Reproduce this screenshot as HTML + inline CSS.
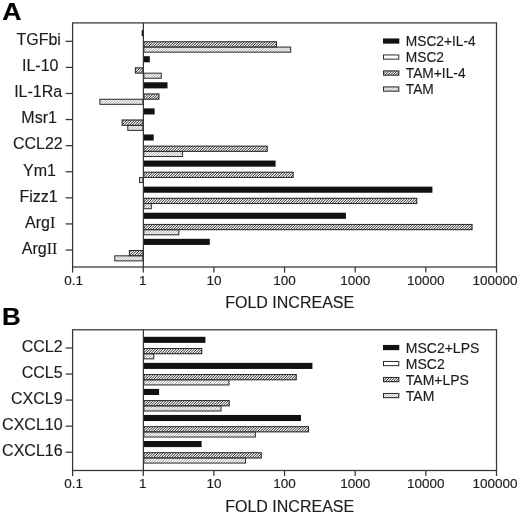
<!DOCTYPE html>
<html lang="en"><head><meta charset="utf-8"><title>Fold increase</title>
<style>html,body{margin:0;padding:0;background:#fff}svg{display:block}text{font-family:"Liberation Sans",Arial,Helvetica,sans-serif;fill:#1c1c1c;stroke:#1c1c1c;stroke-width:0.15px}.ser{font-family:"Liberation Serif","Times New Roman",serif;font-size:16px;stroke-width:0.1px}</style></head><body>
<svg width="520" height="514" viewBox="0 0 520 514">
<defs>
<path id="hatch" d="M68.40,20L-391.60,480M71.00,20L-389.00,480M73.60,20L-386.40,480M76.20,20L-383.80,480M78.80,20L-381.20,480M81.40,20L-378.60,480M84.00,20L-376.00,480M86.60,20L-373.40,480M89.20,20L-370.80,480M91.80,20L-368.20,480M94.40,20L-365.60,480M97.00,20L-363.00,480M99.60,20L-360.40,480M102.20,20L-357.80,480M104.80,20L-355.20,480M107.40,20L-352.60,480M110.00,20L-350.00,480M112.60,20L-347.40,480M115.20,20L-344.80,480M117.80,20L-342.20,480M120.40,20L-339.60,480M123.00,20L-337.00,480M125.60,20L-334.40,480M128.20,20L-331.80,480M130.80,20L-329.20,480M133.40,20L-326.60,480M136.00,20L-324.00,480M138.60,20L-321.40,480M141.20,20L-318.80,480M143.80,20L-316.20,480M146.40,20L-313.60,480M149.00,20L-311.00,480M151.60,20L-308.40,480M154.20,20L-305.80,480M156.80,20L-303.20,480M159.40,20L-300.60,480M162.00,20L-298.00,480M164.60,20L-295.40,480M167.20,20L-292.80,480M169.80,20L-290.20,480M172.40,20L-287.60,480M175.00,20L-285.00,480M177.60,20L-282.40,480M180.20,20L-279.80,480M182.80,20L-277.20,480M185.40,20L-274.60,480M188.00,20L-272.00,480M190.60,20L-269.40,480M193.20,20L-266.80,480M195.80,20L-264.20,480M198.40,20L-261.60,480M201.00,20L-259.00,480M203.60,20L-256.40,480M206.20,20L-253.80,480M208.80,20L-251.20,480M211.40,20L-248.60,480M214.00,20L-246.00,480M216.60,20L-243.40,480M219.20,20L-240.80,480M221.80,20L-238.20,480M224.40,20L-235.60,480M227.00,20L-233.00,480M229.60,20L-230.40,480M232.20,20L-227.80,480M234.80,20L-225.20,480M237.40,20L-222.60,480M240.00,20L-220.00,480M242.60,20L-217.40,480M245.20,20L-214.80,480M247.80,20L-212.20,480M250.40,20L-209.60,480M253.00,20L-207.00,480M255.60,20L-204.40,480M258.20,20L-201.80,480M260.80,20L-199.20,480M263.40,20L-196.60,480M266.00,20L-194.00,480M268.60,20L-191.40,480M271.20,20L-188.80,480M273.80,20L-186.20,480M276.40,20L-183.60,480M279.00,20L-181.00,480M281.60,20L-178.40,480M284.20,20L-175.80,480M286.80,20L-173.20,480M289.40,20L-170.60,480M292.00,20L-168.00,480M294.60,20L-165.40,480M297.20,20L-162.80,480M299.80,20L-160.20,480M302.40,20L-157.60,480M305.00,20L-155.00,480M307.60,20L-152.40,480M310.20,20L-149.80,480M312.80,20L-147.20,480M315.40,20L-144.60,480M318.00,20L-142.00,480M320.60,20L-139.40,480M323.20,20L-136.80,480M325.80,20L-134.20,480M328.40,20L-131.60,480M331.00,20L-129.00,480M333.60,20L-126.40,480M336.20,20L-123.80,480M338.80,20L-121.20,480M341.40,20L-118.60,480M344.00,20L-116.00,480M346.60,20L-113.40,480M349.20,20L-110.80,480M351.80,20L-108.20,480M354.40,20L-105.60,480M357.00,20L-103.00,480M359.60,20L-100.40,480M362.20,20L-97.80,480M364.80,20L-95.20,480M367.40,20L-92.60,480M370.00,20L-90.00,480M372.60,20L-87.40,480M375.20,20L-84.80,480M377.80,20L-82.20,480M380.40,20L-79.60,480M383.00,20L-77.00,480M385.60,20L-74.40,480M388.20,20L-71.80,480M390.80,20L-69.20,480M393.40,20L-66.60,480M396.00,20L-64.00,480M398.60,20L-61.40,480M401.20,20L-58.80,480M403.80,20L-56.20,480M406.40,20L-53.60,480M409.00,20L-51.00,480M411.60,20L-48.40,480M414.20,20L-45.80,480M416.80,20L-43.20,480M419.40,20L-40.60,480M422.00,20L-38.00,480M424.60,20L-35.40,480M427.20,20L-32.80,480M429.80,20L-30.20,480M432.40,20L-27.60,480M435.00,20L-25.00,480M437.60,20L-22.40,480M440.20,20L-19.80,480M442.80,20L-17.20,480M445.40,20L-14.60,480M448.00,20L-12.00,480M450.60,20L-9.40,480M453.20,20L-6.80,480M455.80,20L-4.20,480M458.40,20L-1.60,480M461.00,20L1.00,480M463.60,20L3.60,480M466.20,20L6.20,480M468.80,20L8.80,480M471.40,20L11.40,480M474.00,20L14.00,480M476.60,20L16.60,480M479.20,20L19.20,480M481.80,20L21.80,480M484.40,20L24.40,480M487.00,20L27.00,480M489.60,20L29.60,480M492.20,20L32.20,480M494.80,20L34.80,480M497.40,20L37.40,480M500.00,20L40.00,480M502.60,20L42.60,480M505.20,20L45.20,480M507.80,20L47.80,480M510.40,20L50.40,480M513.00,20L53.00,480M515.60,20L55.60,480M518.20,20L58.20,480M520.80,20L60.80,480M523.40,20L63.40,480M526.00,20L66.00,480M528.60,20L68.60,480M531.20,20L71.20,480M533.80,20L73.80,480M536.40,20L76.40,480M539.00,20L79.00,480M541.60,20L81.60,480M544.20,20L84.20,480M546.80,20L86.80,480M549.40,20L89.40,480M552.00,20L92.00,480M554.60,20L94.60,480M557.20,20L97.20,480M559.80,20L99.80,480M562.40,20L102.40,480M565.00,20L105.00,480M567.60,20L107.60,480M570.20,20L110.20,480M572.80,20L112.80,480M575.40,20L115.40,480M578.00,20L118.00,480M580.60,20L120.60,480M583.20,20L123.20,480M585.80,20L125.80,480M588.40,20L128.40,480M591.00,20L131.00,480M593.60,20L133.60,480M596.20,20L136.20,480M598.80,20L138.80,480M601.40,20L141.40,480M604.00,20L144.00,480M606.60,20L146.60,480M609.20,20L149.20,480M611.80,20L151.80,480M614.40,20L154.40,480M617.00,20L157.00,480M619.60,20L159.60,480M622.20,20L162.20,480M624.80,20L164.80,480M627.40,20L167.40,480M630.00,20L170.00,480M632.60,20L172.60,480M635.20,20L175.20,480M637.80,20L177.80,480M640.40,20L180.40,480M643.00,20L183.00,480M645.60,20L185.60,480M648.20,20L188.20,480M650.80,20L190.80,480M653.40,20L193.40,480M656.00,20L196.00,480M658.60,20L198.60,480M661.20,20L201.20,480M663.80,20L203.80,480M666.40,20L206.40,480M669.00,20L209.00,480M671.60,20L211.60,480M674.20,20L214.20,480M676.80,20L216.80,480M679.40,20L219.40,480M682.00,20L222.00,480M684.60,20L224.60,480M687.20,20L227.20,480M689.80,20L229.80,480M692.40,20L232.40,480M695.00,20L235.00,480M697.60,20L237.60,480M700.20,20L240.20,480M702.80,20L242.80,480M705.40,20L245.40,480M708.00,20L248.00,480M710.60,20L250.60,480M713.20,20L253.20,480M715.80,20L255.80,480M718.40,20L258.40,480M721.00,20L261.00,480M723.60,20L263.60,480M726.20,20L266.20,480M728.80,20L268.80,480M731.40,20L271.40,480M734.00,20L274.00,480M736.60,20L276.60,480M739.20,20L279.20,480M741.80,20L281.80,480M744.40,20L284.40,480M747.00,20L287.00,480M749.60,20L289.60,480M752.20,20L292.20,480M754.80,20L294.80,480M757.40,20L297.40,480M760.00,20L300.00,480M762.60,20L302.60,480M765.20,20L305.20,480M767.80,20L307.80,480M770.40,20L310.40,480M773.00,20L313.00,480M775.60,20L315.60,480M778.20,20L318.20,480M780.80,20L320.80,480M783.40,20L323.40,480M786.00,20L326.00,480M788.60,20L328.60,480M791.20,20L331.20,480M793.80,20L333.80,480M796.40,20L336.40,480M799.00,20L339.00,480M801.60,20L341.60,480M804.20,20L344.20,480M806.80,20L346.80,480M809.40,20L349.40,480M812.00,20L352.00,480M814.60,20L354.60,480M817.20,20L357.20,480M819.80,20L359.80,480M822.40,20L362.40,480M825.00,20L365.00,480M827.60,20L367.60,480M830.20,20L370.20,480M832.80,20L372.80,480M835.40,20L375.40,480M838.00,20L378.00,480M840.60,20L380.60,480M843.20,20L383.20,480M845.80,20L385.80,480M848.40,20L388.40,480M851.00,20L391.00,480M853.60,20L393.60,480M856.20,20L396.20,480M858.80,20L398.80,480M861.40,20L401.40,480M864.00,20L404.00,480M866.60,20L406.60,480M869.20,20L409.20,480M871.80,20L411.80,480M874.40,20L414.40,480M877.00,20L417.00,480M879.60,20L419.60,480M882.20,20L422.20,480M884.80,20L424.80,480M887.40,20L427.40,480M890.00,20L430.00,480M892.60,20L432.60,480M895.20,20L435.20,480M897.80,20L437.80,480M900.40,20L440.40,480M903.00,20L443.00,480M905.60,20L445.60,480M908.20,20L448.20,480M910.80,20L450.80,480M913.40,20L453.40,480M916.00,20L456.00,480M918.60,20L458.60,480M921.20,20L461.20,480M923.80,20L463.80,480M926.40,20L466.40,480M929.00,20L469.00,480M931.60,20L471.60,480M934.20,20L474.20,480M936.80,20L476.80,480M939.40,20L479.40,480M942.00,20L482.00,480M944.60,20L484.60,480M947.20,20L487.20,480M949.80,20L489.80,480M952.40,20L492.40,480M955.00,20L495.00,480M957.60,20L497.60,480M960.20,20L500.20,480M962.80,20L502.80,480M965.40,20L505.40,480M968.00,20L508.00,480M970.60,20L510.60,480M973.20,20L513.20,480M975.80,20L515.80,480M978.40,20L518.40,480" fill="none"/>
<clipPath id="cd">
<rect x="143.40" y="41.30" width="133.60" height="6.20"/>
<rect x="134.90" y="67.39" width="8.50" height="6.20"/>
<rect x="143.40" y="93.48" width="16.00" height="6.20"/>
<rect x="121.70" y="119.57" width="21.70" height="6.20"/>
<rect x="143.40" y="145.66" width="124.30" height="6.20"/>
<rect x="143.40" y="171.75" width="150.20" height="6.20"/>
<rect x="143.40" y="197.84" width="273.80" height="6.20"/>
<rect x="143.40" y="223.93" width="329.10" height="6.20"/>
<rect x="128.90" y="250.02" width="14.50" height="6.20"/>
<rect x="383.00" y="70.45" width="16.30" height="5.20"/>
<rect x="143.40" y="348.00" width="58.80" height="6.20"/>
<rect x="143.40" y="374.05" width="153.30" height="6.20"/>
<rect x="143.40" y="400.10" width="86.30" height="6.20"/>
<rect x="143.40" y="426.15" width="165.60" height="6.20"/>
<rect x="143.40" y="452.20" width="118.30" height="6.20"/>
<rect x="383.00" y="376.95" width="16.30" height="5.20"/>
</clipPath>
<clipPath id="cl">
<rect x="143.40" y="46.60" width="147.80" height="6.05"/>
<rect x="143.40" y="72.69" width="18.30" height="6.05"/>
<rect x="99.40" y="98.78" width="44.00" height="6.05"/>
<rect x="127.30" y="124.87" width="16.10" height="6.05"/>
<rect x="143.40" y="150.96" width="39.70" height="6.05"/>
<rect x="139.00" y="177.05" width="4.40" height="6.05"/>
<rect x="143.40" y="203.14" width="8.40" height="6.05"/>
<rect x="143.40" y="229.23" width="35.90" height="6.05"/>
<rect x="114.30" y="255.32" width="29.10" height="6.05"/>
<rect x="383.00" y="86.45" width="16.30" height="5.20"/>
<rect x="143.40" y="353.30" width="10.80" height="6.05"/>
<rect x="143.40" y="379.35" width="86.00" height="6.05"/>
<rect x="143.40" y="405.40" width="78.10" height="6.05"/>
<rect x="143.40" y="431.45" width="112.50" height="6.05"/>
<rect x="143.40" y="457.50" width="102.60" height="6.05"/>
<rect x="383.00" y="392.95" width="16.30" height="5.20"/>
</clipPath>
</defs>
<rect width="520" height="514" fill="#fff"/>
<g clip-path="url(#cd)"><rect x="90" y="20" width="410" height="460" fill="#f4f4f4"/><use href="#hatch" stroke="#303030" stroke-width="0.993"/></g>
<g clip-path="url(#cl)"><rect x="90" y="20" width="410" height="460" fill="#ffffff"/><use href="#hatch" stroke="#777" stroke-width="0.662"/></g>
<rect x="141.70" y="30.10" width="1.70" height="6.10" fill="#111"/>
<rect x="143.90" y="41.80" width="132.60" height="5.20" fill="none" stroke="#2a2a2a" stroke-width="1"/>
<rect x="143.90" y="47.10" width="146.80" height="5.05" fill="none" stroke="#303030" stroke-width="1"/>
<rect x="143.40" y="56.19" width="6.40" height="6.10" fill="#111"/>
<rect x="135.40" y="67.89" width="7.50" height="5.20" fill="none" stroke="#2a2a2a" stroke-width="1"/>
<rect x="143.90" y="73.19" width="17.30" height="5.05" fill="none" stroke="#303030" stroke-width="1"/>
<rect x="143.40" y="82.28" width="24.10" height="6.10" fill="#111"/>
<rect x="143.90" y="93.98" width="15.00" height="5.20" fill="none" stroke="#2a2a2a" stroke-width="1"/>
<rect x="99.90" y="99.28" width="43.00" height="5.05" fill="none" stroke="#303030" stroke-width="1"/>
<rect x="143.40" y="108.37" width="11.20" height="6.10" fill="#111"/>
<rect x="122.20" y="120.07" width="20.70" height="5.20" fill="none" stroke="#2a2a2a" stroke-width="1"/>
<rect x="127.80" y="125.37" width="15.10" height="5.05" fill="none" stroke="#303030" stroke-width="1"/>
<rect x="143.40" y="134.46" width="10.30" height="6.10" fill="#111"/>
<rect x="143.90" y="146.16" width="123.30" height="5.20" fill="none" stroke="#2a2a2a" stroke-width="1"/>
<rect x="143.90" y="151.46" width="38.70" height="5.05" fill="none" stroke="#303030" stroke-width="1"/>
<rect x="143.40" y="160.55" width="132.20" height="6.10" fill="#111"/>
<rect x="143.90" y="172.25" width="149.20" height="5.20" fill="none" stroke="#2a2a2a" stroke-width="1"/>
<rect x="139.50" y="177.55" width="3.40" height="5.05" fill="none" stroke="#303030" stroke-width="1"/>
<rect x="143.40" y="186.64" width="289.00" height="6.10" fill="#111"/>
<rect x="143.90" y="198.34" width="272.80" height="5.20" fill="none" stroke="#2a2a2a" stroke-width="1"/>
<rect x="143.90" y="203.64" width="7.40" height="5.05" fill="none" stroke="#303030" stroke-width="1"/>
<rect x="143.40" y="212.73" width="202.50" height="6.10" fill="#111"/>
<rect x="143.90" y="224.43" width="328.10" height="5.20" fill="none" stroke="#2a2a2a" stroke-width="1"/>
<rect x="143.90" y="229.73" width="34.90" height="5.05" fill="none" stroke="#303030" stroke-width="1"/>
<rect x="143.40" y="238.82" width="66.40" height="6.10" fill="#111"/>
<rect x="129.40" y="250.52" width="13.50" height="5.20" fill="none" stroke="#2a2a2a" stroke-width="1"/>
<rect x="114.80" y="255.82" width="28.10" height="5.05" fill="none" stroke="#303030" stroke-width="1"/>
<rect x="383.00" y="38.45" width="16.30" height="5.20" fill="#111"/>
<rect x="383.50" y="54.95" width="15.30" height="4.20" fill="#fff" stroke="#2a2a2a" stroke-width="1"/>
<rect x="383.50" y="70.95" width="15.30" height="4.20" fill="none" stroke="#2a2a2a" stroke-width="1"/>
<rect x="383.50" y="86.95" width="15.30" height="4.20" fill="none" stroke="#2a2a2a" stroke-width="1"/>
<rect x="143.40" y="336.80" width="62.00" height="6.10" fill="#111"/>
<rect x="143.90" y="348.50" width="57.80" height="5.20" fill="none" stroke="#2a2a2a" stroke-width="1"/>
<rect x="143.90" y="353.80" width="9.80" height="5.05" fill="none" stroke="#303030" stroke-width="1"/>
<rect x="143.40" y="362.85" width="169.00" height="6.10" fill="#111"/>
<rect x="143.90" y="374.55" width="152.30" height="5.20" fill="none" stroke="#2a2a2a" stroke-width="1"/>
<rect x="143.90" y="379.85" width="85.00" height="5.05" fill="none" stroke="#303030" stroke-width="1"/>
<rect x="143.40" y="388.90" width="15.70" height="6.10" fill="#111"/>
<rect x="143.90" y="400.60" width="85.30" height="5.20" fill="none" stroke="#2a2a2a" stroke-width="1"/>
<rect x="143.90" y="405.90" width="77.10" height="5.05" fill="none" stroke="#303030" stroke-width="1"/>
<rect x="143.40" y="414.95" width="157.60" height="6.10" fill="#111"/>
<rect x="143.90" y="426.65" width="164.60" height="5.20" fill="none" stroke="#2a2a2a" stroke-width="1"/>
<rect x="143.90" y="431.95" width="111.50" height="5.05" fill="none" stroke="#303030" stroke-width="1"/>
<rect x="143.40" y="441.00" width="58.20" height="6.10" fill="#111"/>
<rect x="143.90" y="452.70" width="117.30" height="5.20" fill="none" stroke="#2a2a2a" stroke-width="1"/>
<rect x="143.90" y="458.00" width="101.60" height="5.05" fill="none" stroke="#303030" stroke-width="1"/>
<rect x="383.00" y="344.95" width="16.30" height="5.20" fill="#111"/>
<rect x="383.50" y="361.45" width="15.30" height="4.20" fill="#fff" stroke="#2a2a2a" stroke-width="1"/>
<rect x="383.50" y="377.45" width="15.30" height="4.20" fill="none" stroke="#2a2a2a" stroke-width="1"/>
<rect x="383.50" y="393.45" width="15.30" height="4.20" fill="none" stroke="#2a2a2a" stroke-width="1"/>
<text transform="translate(2.3,20.0) scale(1.11,1)" font-size="24" font-weight="bold" style="fill:#000;stroke:#000;stroke-width:0.2px">A</text>
<rect x="72.6" y="22.9" width="423.9" height="244.1" fill="none" stroke="#363636" stroke-width="1.25"/>
<line x1="143.4" y1="22.9" x2="143.4" y2="267.0" stroke="#363636" stroke-width="1.25"/>
<line x1="72.60" y1="267.0" x2="72.60" y2="272.6" stroke="#363636" stroke-width="1.25"/>
<line x1="143.25" y1="267.0" x2="143.25" y2="272.6" stroke="#363636" stroke-width="1.25"/>
<line x1="213.90" y1="267.0" x2="213.90" y2="272.6" stroke="#363636" stroke-width="1.25"/>
<line x1="284.55" y1="267.0" x2="284.55" y2="272.6" stroke="#363636" stroke-width="1.25"/>
<line x1="355.20" y1="267.0" x2="355.20" y2="272.6" stroke="#363636" stroke-width="1.25"/>
<line x1="425.85" y1="267.0" x2="425.85" y2="272.6" stroke="#363636" stroke-width="1.25"/>
<line x1="496.50" y1="267.0" x2="496.50" y2="272.6" stroke="#363636" stroke-width="1.25"/>
<text x="73.75" y="284.60" font-size="13.5" text-anchor="middle">0.1</text>
<text x="142.65" y="284.60" font-size="13.5" text-anchor="middle">1</text>
<text x="213.90" y="284.60" font-size="13.5" text-anchor="middle">10</text>
<text x="284.55" y="284.60" font-size="13.5" text-anchor="middle">100</text>
<text x="355.20" y="284.60" font-size="13.5" text-anchor="middle">1000</text>
<text x="425.85" y="284.60" font-size="13.5" text-anchor="middle">10000</text>
<text x="495.00" y="284.60" font-size="13.5" text-anchor="middle">100000</text>
<line x1="65.6" y1="41.30" x2="72.6" y2="41.30" stroke="#363636" stroke-width="1.25"/>
<text x="38.65" y="45.05" font-size="16" text-anchor="middle">TGFbi</text>
<line x1="65.6" y1="67.39" x2="72.6" y2="67.39" stroke="#363636" stroke-width="1.25"/>
<text x="40.25" y="71.14" font-size="16" text-anchor="middle">IL-10</text>
<line x1="65.6" y1="93.48" x2="72.6" y2="93.48" stroke="#363636" stroke-width="1.25"/>
<text x="38.15" y="97.23" font-size="16" text-anchor="middle">IL-1Ra</text>
<line x1="65.6" y1="119.57" x2="72.6" y2="119.57" stroke="#363636" stroke-width="1.25"/>
<text x="39.15" y="123.32" font-size="16" text-anchor="middle">Msr1</text>
<line x1="65.6" y1="145.66" x2="72.6" y2="145.66" stroke="#363636" stroke-width="1.25"/>
<text x="37.80" y="149.41" font-size="16" text-anchor="middle">CCL22</text>
<line x1="65.6" y1="171.75" x2="72.6" y2="171.75" stroke="#363636" stroke-width="1.25"/>
<text x="39.45" y="175.50" font-size="16" text-anchor="middle">Ym1</text>
<line x1="65.6" y1="197.84" x2="72.6" y2="197.84" stroke="#363636" stroke-width="1.25"/>
<text x="38.65" y="201.59" font-size="16" text-anchor="middle">Fizz1</text>
<line x1="65.6" y1="223.93" x2="72.6" y2="223.93" stroke="#363636" stroke-width="1.25"/>
<text x="55.30" y="227.68" font-size="16" text-anchor="end">Arg<tspan class="ser">I</tspan></text>
<line x1="65.6" y1="250.02" x2="72.6" y2="250.02" stroke="#363636" stroke-width="1.25"/>
<text x="57.40" y="253.77" font-size="16" text-anchor="end">Arg<tspan class="ser">II</tspan></text>
<text x="289.7" y="308.2" font-size="16" text-anchor="middle">FOLD INCREASE</text>
<text x="405.8" y="46.0" font-size="13.75">MSC2+IL-4</text>
<text x="405.8" y="62.0" font-size="13.75">MSC2</text>
<text x="405.8" y="78.0" font-size="13.75">TAM+IL-4</text>
<text x="405.8" y="94.0" font-size="13.75">TAM</text>
<text transform="translate(1.9,325.3) scale(1.08,1)" font-size="24" font-weight="bold" style="fill:#000;stroke:#000;stroke-width:0.2px">B</text>
<rect x="72.6" y="329.8" width="423.9" height="140.7" fill="none" stroke="#363636" stroke-width="1.25"/>
<line x1="143.4" y1="329.8" x2="143.4" y2="470.5" stroke="#363636" stroke-width="1.25"/>
<line x1="72.60" y1="470.5" x2="72.60" y2="476.1" stroke="#363636" stroke-width="1.25"/>
<line x1="143.25" y1="470.5" x2="143.25" y2="476.1" stroke="#363636" stroke-width="1.25"/>
<line x1="213.90" y1="470.5" x2="213.90" y2="476.1" stroke="#363636" stroke-width="1.25"/>
<line x1="284.55" y1="470.5" x2="284.55" y2="476.1" stroke="#363636" stroke-width="1.25"/>
<line x1="355.20" y1="470.5" x2="355.20" y2="476.1" stroke="#363636" stroke-width="1.25"/>
<line x1="425.85" y1="470.5" x2="425.85" y2="476.1" stroke="#363636" stroke-width="1.25"/>
<line x1="496.50" y1="470.5" x2="496.50" y2="476.1" stroke="#363636" stroke-width="1.25"/>
<text x="73.75" y="488.20" font-size="13.5" text-anchor="middle">0.1</text>
<text x="142.65" y="488.20" font-size="13.5" text-anchor="middle">1</text>
<text x="213.90" y="488.20" font-size="13.5" text-anchor="middle">10</text>
<text x="284.55" y="488.20" font-size="13.5" text-anchor="middle">100</text>
<text x="355.20" y="488.20" font-size="13.5" text-anchor="middle">1000</text>
<text x="425.85" y="488.20" font-size="13.5" text-anchor="middle">10000</text>
<text x="495.00" y="488.20" font-size="13.5" text-anchor="middle">100000</text>
<line x1="65.6" y1="348.00" x2="72.6" y2="348.00" stroke="#363636" stroke-width="1.25"/>
<text x="62.60" y="352.10" font-size="16" text-anchor="end">CCL2</text>
<line x1="65.6" y1="374.05" x2="72.6" y2="374.05" stroke="#363636" stroke-width="1.25"/>
<text x="62.60" y="378.15" font-size="16" text-anchor="end">CCL5</text>
<line x1="65.6" y1="400.10" x2="72.6" y2="400.10" stroke="#363636" stroke-width="1.25"/>
<text x="62.60" y="404.20" font-size="16" text-anchor="end">CXCL9</text>
<line x1="65.6" y1="426.15" x2="72.6" y2="426.15" stroke="#363636" stroke-width="1.25"/>
<text x="62.60" y="430.25" font-size="16" text-anchor="end">CXCL10</text>
<line x1="65.6" y1="452.20" x2="72.6" y2="452.20" stroke="#363636" stroke-width="1.25"/>
<text x="62.60" y="456.30" font-size="16" text-anchor="end">CXCL16</text>
<text x="289.7" y="511.7" font-size="16" text-anchor="middle">FOLD INCREASE</text>
<text x="405.8" y="352.5" font-size="14.0">MSC2+LPS</text>
<text x="405.8" y="368.5" font-size="14.0">MSC2</text>
<text x="405.8" y="384.5" font-size="14.0">TAM+LPS</text>
<text x="405.8" y="400.5" font-size="14.0">TAM</text>
</svg></body></html>
